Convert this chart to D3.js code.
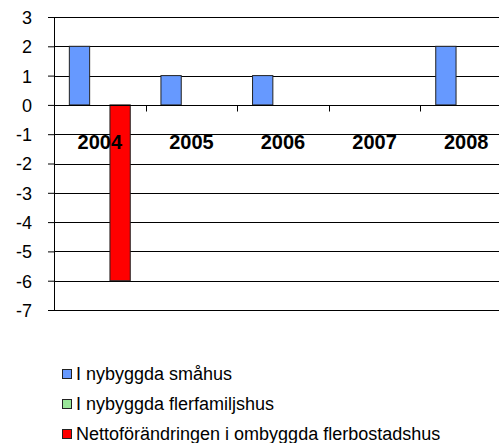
<!DOCTYPE html>
<html>
<head>
<meta charset="utf-8">
<script src="https://cdn.jsdelivr.net/npm/d3@7"></script>
<style>
  body { margin: 0; background: #fff; }
  svg { display: block; font-family: "Liberation Sans", Arial, sans-serif; }
</style>
</head>
<body>
<div id="chart"></div>
<script>
const years = ["2004", "2005", "2006", "2007", "2008"];
const smahus = [2, 1, 1, 0, 2];
const flerfamiljshus = [0, 0, 0, 0, 0];
const ombyggda = [-6, 0, 0, 0, 0];
const seriesNames = [
  "I nybyggda småhus",
  "I nybyggda flerfamiljshus",
  "Nettoförändringen i ombyggda flerbostadshus"
];
const seriesColors = ["#6699ff", "#99e699", "#ff0000"];
const yTicks = [3, 2, 1, 0, -1, -2, -3, -4, -5, -6, -7];

const width = 499, height = 443;
const margin = { top: 17, left: 54 };
const plotW = 458; // plot runs past the right edge of the picture
const plotH = 293;

const svg = d3.select("#chart").append("svg")
  .attr("width", width)
  .attr("height", height);

const g = svg.append("g")
  .attr("transform", "translate(" + margin.left + "," + margin.top + ")");

const y = d3.scaleLinear().domain([-7, 3]).range([plotH, 0]);
const x0 = d3.scaleBand().domain(years).range([0, plotW]).paddingInner(0.335).paddingOuter(0.1675);
const x1 = d3.scaleBand().domain(d3.range(3)).range([0, x0.bandwidth()]);

// gridlines
g.selectAll(".grid")
  .data(yTicks)
  .enter().append("line")
  .attr("x1", 0).attr("x2", plotW)
  .attr("y1", d => Math.round(y(d)) + 0.5)
  .attr("y2", d => Math.round(y(d)) + 0.5)
  .attr("stroke", "#000")
  .attr("stroke-width", 1);

// y axis
const yAxis = d3.axisLeft(y).tickValues(yTicks).tickSize(6).tickSizeOuter(0)
  .tickFormat(d => String(d));
const gy = g.append("g").call(yAxis);
gy.attr("font-size", null).attr("font-family", null);
gy.select(".domain").attr("stroke", "#000");
gy.selectAll("text")
  .attr("x", -22)
  .attr("dy", "0.36em")
  .style("font-size", "18px")
  .attr("fill", "#000");

// bars
const series = [smahus, flerfamiljshus, ombyggda];
series.forEach((vals, si) => {
  g.selectAll(".bar" + si)
    .data(vals.map((v, i) => ({ year: years[i], v: v })).filter(d => d.v !== 0))
    .enter().append("rect")
    .attr("x", d => x0(d.year) + x1(si))
    .attr("width", x1.bandwidth())
    .attr("y", d => y(Math.max(0, d.v)))
    .attr("height", d => Math.abs(y(d.v) - y(0)))
    .attr("fill", seriesColors[si])
    .attr("stroke", "#222")
    .attr("stroke-width", 1);
});

// x axis at zero
const zeroY = Math.round(y(0)) + 0.5;
g.append("line")
  .attr("x1", 0).attr("x2", plotW)
  .attr("y1", zeroY).attr("y2", zeroY)
  .attr("stroke", "#000");
const step = plotW / years.length;
g.selectAll(".xtick")
  .data(d3.range(1, years.length))
  .enter().append("line")
  .attr("x1", d => Math.round(d * step) + 0.5)
  .attr("x2", d => Math.round(d * step) + 0.5)
  .attr("y1", zeroY).attr("y2", zeroY + 6)
  .attr("stroke", "#000");
g.selectAll(".xlabel")
  .data(years)
  .enter().append("text")
  .attr("x", d => x0(d) + x0.bandwidth() / 2)
  .attr("y", zeroY + 43)
  .attr("text-anchor", "middle")
  .style("font-size", "20px")
  .style("font-weight", "bold")
  .text(d => d);

// legend
const legend = svg.append("g").attr("transform", "translate(62,374)");
seriesNames.forEach((name, i) => {
  const row = legend.append("g").attr("transform", "translate(0," + (i * 30) + ")");
  row.append("rect")
    .attr("x", 0.5).attr("y", -4.5)
    .attr("width", 9).attr("height", 9)
    .attr("fill", seriesColors[i])
    .attr("stroke", "#222");
  row.append("text")
    .attr("x", 14)
    .attr("y", 6)
    .style("font-size", "18px")
    .text(name);
});
</script>
</body>
</html>
